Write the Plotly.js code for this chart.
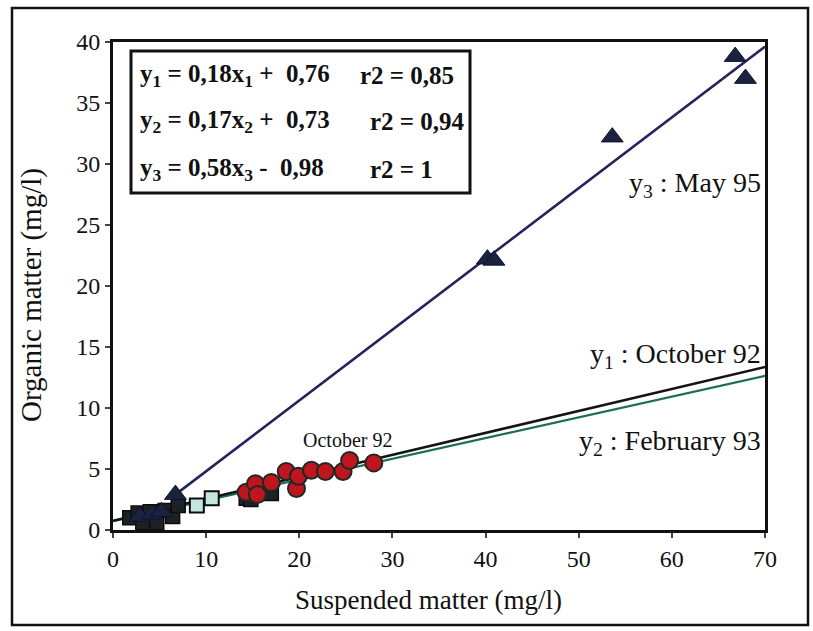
<!DOCTYPE html>
<html>
<head>
<meta charset="utf-8">
<script src="https://cdn.plot.ly/plotly-3.0.1.min.js"></script>
</head>
<body style="margin:0;padding:0;background:#fff">
<div id="chart"></div>
<script>
// October 92 samples (red circles)
const octX = [14.3, 15.3, 15.5, 17.0, 18.6, 19.7, 19.9, 21.3, 22.8, 24.7, 25.4, 28.0];
const octY = [3.1, 3.8, 2.9, 3.9, 4.8, 3.4, 4.4, 4.9, 4.8, 4.8, 5.7, 5.5];

// February 93 samples (dark squares)
const febX = [1.8, 2.7, 3.2, 4.0, 4.7, 5.6, 6.4, 7.0, 14.3, 14.8, 17.0];
const febY = [1.0, 1.4, 0.6, 1.5, 0.6, 1.6, 1.1, 2.0, 2.6, 2.5, 3.0];

// February 93 samples (light squares)
const febLightX = [9.0, 10.6];
const febLightY = [2.0, 2.6];

// May 95 samples (triangles)
const mayX = [2.9, 4.2, 5.2, 6.7, 40.2, 40.9, 53.6, 66.8, 67.9];
const mayY = [1.1, 1.3, 1.5, 2.9, 22.2, 22.1, 32.2, 38.8, 37.0];

// Regression lines: slope, intercept, x-range
const fitOct = { a: 0.18, b: 0.76, x0: 0, x1: 70 };
const fitFeb = { a: 0.17, b: 0.73, x0: 0, x1: 70 };
const fitMay = { a: 0.58, b: -0.98, x0: 6.8, x1: 70 };

// Equation box texts
const eqTexts = ['y<sub>1</sub> = 0,18x<sub>1</sub> +  0,76', 'y<sub>2</sub> = 0,17x<sub>2</sub> +  0,73', 'y<sub>3</sub> = 0,58x<sub>3</sub> -  0,98'];
const r2Texts = ['r2 = 0,85', 'r2 = 0,94', 'r2 = 1'];

const xTicks = [0, 10, 20, 30, 40, 50, 60, 70];
const yTicks = [0, 5, 10, 15, 20, 25, 30, 35, 40];

const xTitle = 'Suspended matter (mg/l)';
const yTitle = 'Organic matter (mg/l)';

function fitLine(f) {
  return { x: [f.x0, f.x1], y: [f.a * f.x0 + f.b, f.a * f.x1 + f.b] };
}

const FAM = 'Liberation Serif';
const lOct = fitLine(fitOct), lFeb = fitLine(fitFeb), lMay = fitLine(fitMay);

const traces = [
  { x: lFeb.x, y: lFeb.y, mode: 'lines', line: { color: '#1d6b5a', width: 2.2 }, hoverinfo: 'skip' },
  { x: lOct.x, y: lOct.y, mode: 'lines', line: { color: '#141414', width: 2.6 }, hoverinfo: 'skip' },
  { x: lMay.x, y: lMay.y, mode: 'lines', line: { color: '#25235e', width: 2.6 }, hoverinfo: 'skip' },
  { x: febX, y: febY, mode: 'markers',
    marker: { symbol: 'square', size: 14, color: '#1c2126', line: { color: '#0c0c0c', width: 1.5 } } },
  { x: febLightX, y: febLightY, mode: 'markers',
    marker: { symbol: 'square', size: 14, color: '#c4e6df', line: { color: '#0c0c0c', width: 2 } } },
  { x: mayX, y: mayY, mode: 'markers',
    marker: { symbol: 'triangle-up', size: 19, color: '#1b2240', line: { color: '#10142a', width: 1 } } },
  { x: octX, y: octY, mode: 'markers',
    marker: { symbol: 'circle', size: 17, color: '#c0141e', line: { color: '#1e2a22', width: 2 } } }
];

const eqFont = { family: FAM, size: 25 };
const lblFont = { family: FAM, size: 28 };

// pixel helpers (paper coordinates of the plot area)
const PL = 113, PW = 652, PT = 42, PH = 488;
const px = v => (v - PL) / PW;
const py = v => (PT + PH - v) / PH;

const eqRows = [75, 122, 169];
const r2Left = [358, 368, 368];

const annotations = [];
eqTexts.forEach((t, i) => {
  annotations.push({ xref: 'paper', yref: 'paper', x: px(138), y: py(eqRows[i]), xanchor: 'left', yanchor: 'middle',
    showarrow: false, font: eqFont, text: '<b>' + t + '</b>' });
  annotations.push({ xref: 'paper', yref: 'paper', x: px(r2Left[i]), y: py(eqRows[i]), xanchor: 'left', yanchor: 'middle',
    showarrow: false, font: eqFont, text: '<b>' + r2Texts[i] + '</b>' });
});
annotations.push(
  { x: 69.8, y: 28.3, xanchor: 'right', yanchor: 'middle', showarrow: false,
    font: lblFont, text: 'y<sub>3</sub> : May 95' },
  { x: 69.8, y: 14.3, xanchor: 'right', yanchor: 'middle', showarrow: false,
    font: lblFont, text: 'y<sub>1</sub> : October 92' },
  { x: 69.8, y: 7.2, xanchor: 'right', yanchor: 'middle', showarrow: false,
    font: lblFont, text: 'y<sub>2</sub> : February 93' },
  { x: 25.2, y: 7.4, xanchor: 'center', yanchor: 'middle', showarrow: false,
    font: { family: FAM, size: 20 }, text: 'October 92' },
  // axis titles
  { xref: 'paper', yref: 'paper', x: px(428), y: py(600), xanchor: 'center', yanchor: 'middle', showarrow: false,
    font: { family: FAM, size: 27 }, text: xTitle },
  { xref: 'paper', yref: 'paper', x: px(31), y: py(295), xanchor: 'center', yanchor: 'middle', showarrow: false,
    textangle: -90, font: { family: FAM, size: 29 }, text: yTitle }
);

const layout = {
  width: 813, height: 631,
  font: { family: FAM, size: 24, color: '#111111' },
  margin: { l: PL, r: 813 - PL - PW, t: PT, b: 631 - PT - PH },
  paper_bgcolor: '#ffffff', plot_bgcolor: '#ffffff',
  showlegend: false,
  xaxis: {
    range: [0, 70], tickvals: xTicks, ticks: 'outside', ticklen: 5, tickwidth: 2,
    showgrid: false, zeroline: false, showline: true, mirror: true,
    linecolor: '#111', linewidth: 3,
    tickfont: { family: FAM, size: 24 }
  },
  yaxis: {
    range: [0, 40], tickvals: yTicks, ticks: 'outside', ticklen: 5, tickwidth: 2,
    showgrid: false, zeroline: false, showline: true, mirror: true,
    linecolor: '#111', linewidth: 3,
    tickfont: { family: FAM, size: 24 }
  },
  shapes: [
    // equation box
    { type: 'rect', xref: 'paper', yref: 'paper', x0: px(131), x1: px(470), y0: py(193), y1: py(51),
      line: { color: '#111', width: 3 }, fillcolor: 'rgba(0,0,0,0)' },
    // outer frame
    { type: 'rect', xref: 'paper', yref: 'paper', x0: px(12), x1: px(808), y0: py(625), y1: py(8),
      line: { color: '#111', width: 2.5 }, fillcolor: 'rgba(0,0,0,0)' }
  ],
  annotations: annotations
};

Plotly.newPlot('chart', traces, layout, { displayModeBar: false, staticPlot: true });
</script>
</body>
</html>
